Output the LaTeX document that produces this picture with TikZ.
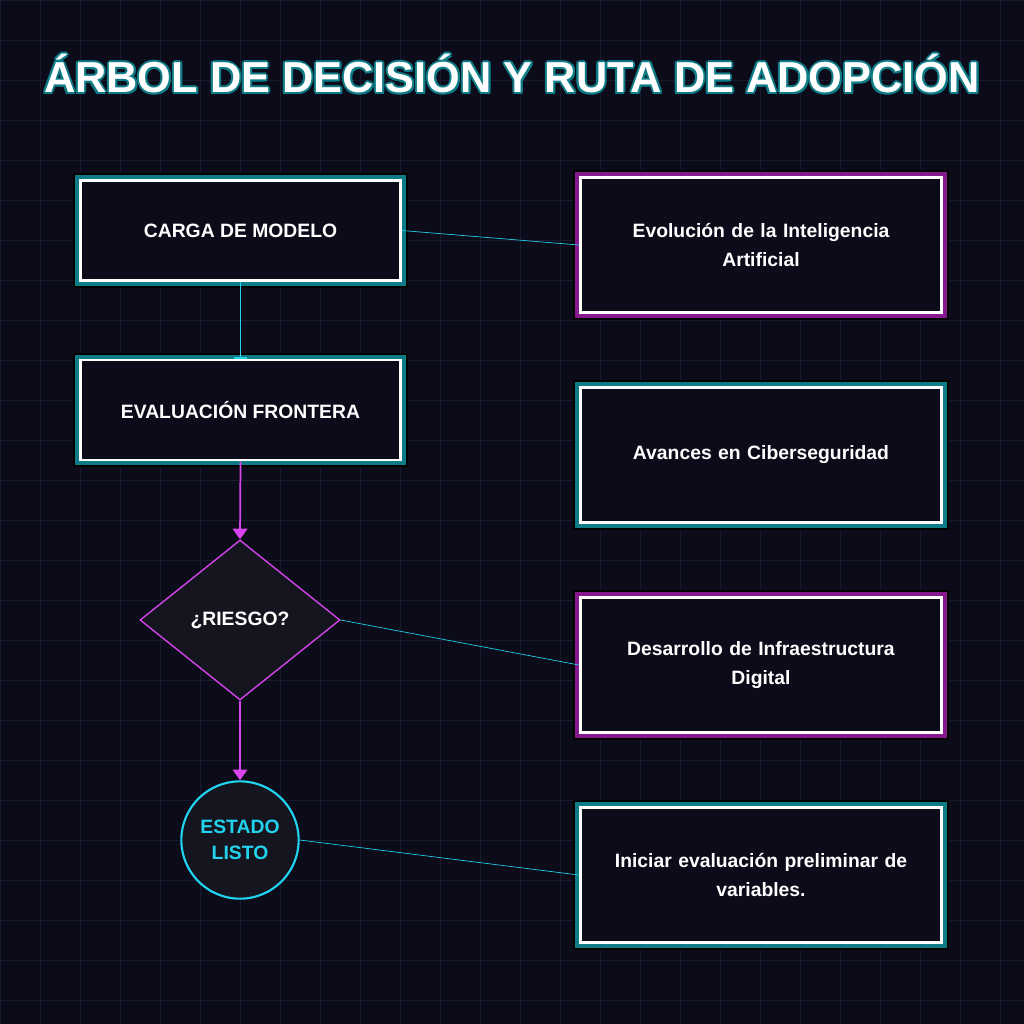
\documentclass[tikz,border=0pt]{standalone}
\usepackage{fontspec}
\setmainfont{Liberation Sans}
\usetikzlibrary{arrows.meta,shapes.geometric}
\definecolor{bg}{HTML}{0B0B1A}
\definecolor{gridc}{HTML}{1A1A2E}
\definecolor{teal}{HTML}{0E7C86}
\definecolor{cyanl}{HTML}{22D3EE}
\definecolor{mag}{HTML}{D946EF}
\definecolor{purp}{HTML}{86198F}
\definecolor{fillc}{HTML}{15151F}
\tikzset{
  x=0.75pt,y=-0.75pt,
  txt/.style={text=white,font=\bfseries\fontsize{14.5}{18}\selectfont,align=center},
  tbox/.style={draw=white,line width=2.2pt,fill=bg,minimum width=240pt,minimum height=75pt,txt,
    preaction={draw=black,line width=11pt},preaction={draw=teal,line width=8pt}},
  pbox/.style={draw=white,line width=2.2pt,fill=bg,minimum width=271pt,minimum height=101pt,txt,text width=250pt,
    preaction={draw=black,line width=11pt},preaction={draw=purp,line width=8pt}},
  qbox/.style={draw=white,line width=2.2pt,fill=bg,minimum width=271pt,minimum height=101pt,txt,text width=250pt,
    preaction={draw=black,line width=11pt},preaction={draw=teal,line width=8pt}},
  thin/.style={draw=cyanl,line width=0.5pt},
  marrow/.style={draw=mag,line width=1.3pt,-{Triangle[length=8pt,width=11pt]}},
}
\begin{document}
\begin{tikzpicture}
\fill[bg] (0,0) rectangle (1024,1024);
\useasboundingbox (0,0) rectangle (1024,1024);
\draw[gridc,line width=0.6pt,step=30pt] (0,0) grid (1024,1024);
% title
\foreach \dx/\dy in {-2/0,2/0,0/-2,0/2,-1.5/-1.5,1.5/1.5,-1.5/1.5,1.5/-1.5}
  \node[text=teal,font=\bfseries\fontsize{32.5}{40}\selectfont] at (512+\dx,74+\dy) {ÁRBOL DE DECISIÓN Y RUTA DE ADOPCIÓN};
\node (title)[text=white,font=\bfseries\fontsize{32.5}{40}\selectfont] at (512,74) {ÁRBOL DE DECISIÓN Y RUTA DE ADOPCIÓN};
% left
\node (carga)[tbox] at (240.5,230.5) {CARGA DE MODELO};
\node (eval)[tbox] at (240.5,410) {EVALUACIÓN FRONTERA};
\node (riesgo)[diamond,draw=mag,line width=1pt,fill=fillc,minimum width=150pt,minimum height=120pt,
  inner sep=0pt,txt] at (240,620) {¿RIESGO?};
\node (estado)[circle,draw=cyanl,line width=1.6pt,fill=fillc,minimum size=88pt,
  text=cyanl,font=\bfseries\fontsize{14.5}{20}\selectfont,align=center] at (240,840) {ESTADO\\LISTO};
% right
\node (b1)[pbox] at (761,245) {Evolución de la Inteligencia\\[4pt]Artificial};
\node (b2)[qbox] at (761,455) {Avances en Ciberseguridad};
\node (b3)[pbox] at (761,665) {Desarrollo de Infraestructura\\[4pt]Digital};
\node (b4)[qbox] at (761,875) {Iniciar evaluación preliminar de\\[4pt]variables.};
% connectors
\draw[draw=cyanl,line width=1.3pt,-{Bar[width=10pt]}] (carga.south) -- (eval.north);
\draw[marrow] (eval.south) -- (riesgo.north);
\draw[marrow] (riesgo.south) -- (estado.north);
\draw[thin] (carga.east) -- (b1.west);
\draw[thin] (riesgo.east) -- (b3.west);
\draw[thin] (estado.east) -- (b4.west);
\end{tikzpicture}
\end{document}
